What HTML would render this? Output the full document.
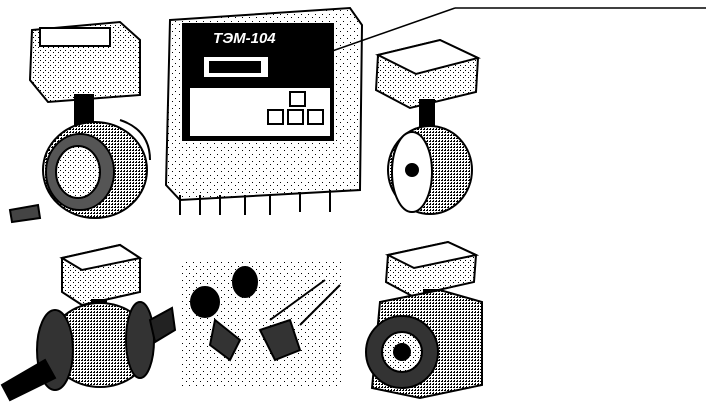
<!DOCTYPE html>
<html><head><meta charset="utf-8"><style>
html,body{margin:0;padding:0;background:#fff;width:710px;height:407px;overflow:hidden}
svg{display:block}
</style></head><body>
<svg width="710" height="407" viewBox="0 0 710 407" xmlns="http://www.w3.org/2000/svg" font-family="Liberation Sans, sans-serif">
<defs>
<pattern id="d" width="5" height="5" patternUnits="userSpaceOnUse"><rect width="5" height="5" fill="#fff"/><rect x="0" y="0" width="1" height="1" fill="#000"/><rect x="3" y="2" width="1" height="1" fill="#000"/></pattern>
<pattern id="g" width="3" height="3" patternUnits="userSpaceOnUse"><rect width="3" height="3" fill="#fff"/><rect x="0" y="0" width="2" height="1" fill="#000"/><rect x="1" y="2" width="1" height="1" fill="#000"/></pattern>
<pattern id="l" width="7" height="7" patternUnits="userSpaceOnUse"><rect width="7" height="7" fill="#fff"/><rect x="0" y="0" width="1" height="1" fill="#000"/><rect x="4" y="3" width="1" height="1" fill="#000"/></pattern>
</defs>
<g stroke="#000" stroke-width="2">
<!-- top-left flowmeter -->
<path d="M32 30 L120 22 L140 40 L140 95 L48 102 L30 80 Z" fill="url(#d)"/>
<rect x="40" y="28" width="70" height="18" fill="#fff"/>
<rect x="75" y="95" width="18" height="30" fill="#000"/>
<ellipse cx="95" cy="170" rx="52" ry="48" fill="url(#g)"/>
<ellipse cx="80" cy="172" rx="34" ry="38" fill="#555"/>
<ellipse cx="78" cy="172" rx="22" ry="26" fill="url(#d)"/>
<path d="M10 210 L38 205 L40 218 L12 222 Z" fill="#444"/>
<path d="M120 120 Q150 130 150 160" fill="none"/>

<!-- central controller -->
<path d="M170 20 L350 8 L362 25 L360 190 L180 200 L166 185 Z" fill="url(#l)"/>
<rect x="183" y="24" width="150" height="116" fill="#000"/>
<rect x="203" y="56" width="66" height="22" fill="#fff"/>
<rect x="210" y="62" width="50" height="10" fill="#000"/>
<rect x="190" y="88" width="140" height="48" fill="#fff" stroke="none"/>
<rect x="290" y="92" width="15" height="14" fill="#fff"/>
<rect x="268" y="110" width="15" height="14" fill="#fff"/>
<rect x="288" y="110" width="15" height="14" fill="#fff"/>
<rect x="308" y="110" width="15" height="14" fill="#fff"/>
<path d="M180 195 L180 215 M200 195 L200 215 M220 195 L220 215 M245 195 L245 215 M270 195 L270 215 M300 192 L300 212 M330 190 L330 212" fill="none"/>
<!-- leader -->
<line x1="318" y1="56" x2="455" y2="8" fill="none" stroke-width="1.5"/>
<line x1="455" y1="8" x2="706" y2="8" stroke-width="1.5"/>

<!-- top-right -->
<path d="M378 55 L440 40 L478 58 L476 92 L410 108 L376 90 Z" fill="url(#d)"/>
<path d="M378 55 L440 40 L478 58 L416 74 Z" fill="#fff"/>
<rect x="420" y="100" width="14" height="28" fill="#000"/>
<ellipse cx="430" cy="170" rx="42" ry="44" fill="url(#g)"/>
<ellipse cx="412" cy="172" rx="20" ry="40" fill="#fff"/>
<circle cx="412" cy="170" r="6" fill="#000"/>

<!-- bottom-left -->
<path d="M62 258 L120 245 L140 258 L140 292 L82 305 L62 292 Z" fill="url(#d)"/>
<path d="M62 258 L120 245 L140 258 L82 270 Z" fill="#fff"/>
<rect x="92" y="300" width="14" height="20" fill="#000"/>
<ellipse cx="100" cy="345" rx="50" ry="42" fill="url(#g)"/>
<ellipse cx="55" cy="350" rx="18" ry="40" fill="#333"/>
<ellipse cx="140" cy="340" rx="14" ry="38" fill="#333"/>
<path d="M2 385 L45 360 L55 378 L10 400 Z" fill="#000"/>
<path d="M150 320 L172 308 L175 330 L155 342 Z" fill="#222"/>

<!-- bottom-center parts -->
<rect x="182" y="262" width="160" height="125" fill="url(#l)" stroke="none"/>
<ellipse cx="245" cy="282" rx="12" ry="15" fill="#000"/>
<ellipse cx="205" cy="302" rx="14" ry="15" fill="#000"/>
<path d="M215 320 L240 340 L230 360 L210 345 Z" fill="#333"/>
<path d="M260 330 L290 320 L300 350 L275 360 Z" fill="#333"/>
<line x1="270" y1="320" x2="325" y2="280"/>
<line x1="300" y1="325" x2="340" y2="285"/>

<!-- bottom-right -->
<path d="M388 255 L448 242 L476 255 L474 282 L412 296 L386 282 Z" fill="url(#d)"/>
<path d="M388 255 L448 242 L476 255 L414 268 Z" fill="#fff"/>
<rect x="424" y="290" width="14" height="10" fill="#000"/>
<path d="M380 302 L440 290 L482 302 L482 385 L420 398 L372 388 Z" fill="url(#g)"/>
<circle cx="402" cy="352" r="36" fill="#333"/>
<circle cx="402" cy="352" r="20" fill="url(#d)"/>
<circle cx="402" cy="352" r="8" fill="#000"/>
</g>
<text x="213" y="43" font-size="15" font-weight="bold" fill="#fff" font-style="italic">ТЭМ-104</text>
</svg>
</body></html>
